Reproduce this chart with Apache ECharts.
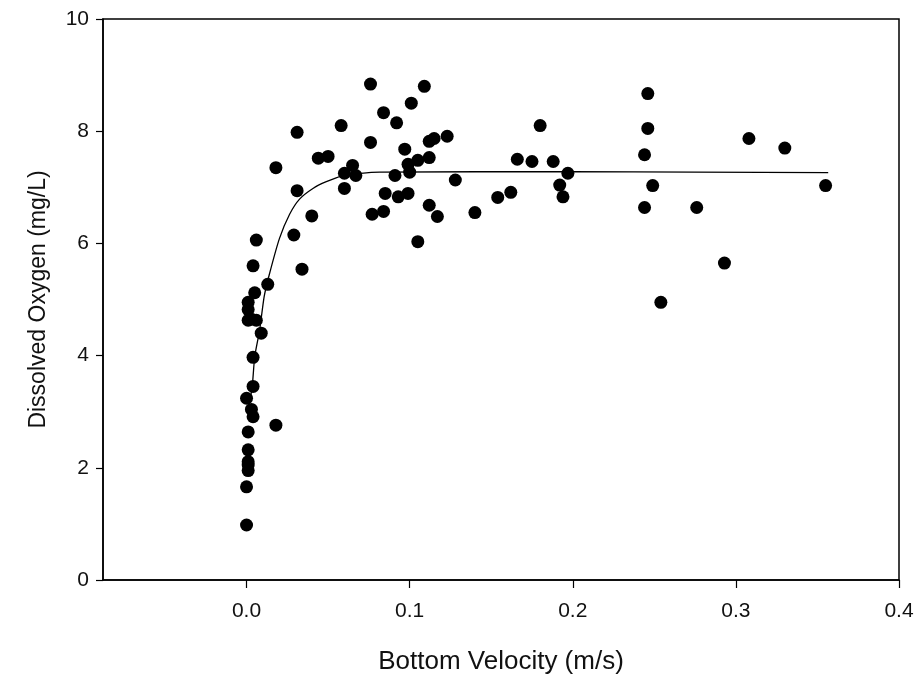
<!DOCTYPE html>
<html>
<head>
<meta charset="utf-8">
<script src="https://cdn.jsdelivr.net/npm/echarts@6/dist/echarts.min.js"></script>
<style>
  html, body { margin: 0; padding: 0; background: #fff; }
  #chart { width: 920px; height: 686px; }
</style>
</head>
<body>
<div id="chart"></div>
<script>
// observed points: [bottom velocity (m/s), dissolved oxygen (mg/L)]
var observed = [
  [0.000, 0.98], [0.000, 1.66], [0.001, 1.95], [0.001, 2.05], [0.001, 2.11],
  [0.001, 2.32], [0.001, 2.64], [0.000, 3.24], [0.003, 3.04], [0.004, 2.91],
  [0.018, 2.76], [0.004, 3.45], [0.004, 3.97], [0.009, 4.40], [0.001, 4.63],
  [0.003, 4.65], [0.006, 4.63], [0.001, 4.82], [0.001, 4.95], [0.005, 5.12],
  [0.013, 5.27], [0.004, 5.60], [0.006, 6.06], [0.034, 5.54], [0.029, 6.15],
  [0.040, 6.49], [0.018, 7.35], [0.031, 6.94], [0.031, 7.98], [0.044, 7.52],
  [0.050, 7.55], [0.058, 8.10], [0.060, 7.25], [0.060, 6.98], [0.065, 7.39],
  [0.067, 7.21], [0.076, 8.84], [0.076, 7.80], [0.077, 6.52], [0.084, 6.57],
  [0.084, 8.33], [0.085, 6.89], [0.091, 7.21], [0.092, 8.15], [0.093, 6.83],
  [0.097, 7.68], [0.099, 7.41], [0.099, 6.89], [0.100, 7.27], [0.101, 8.50],
  [0.105, 6.03], [0.105, 7.48], [0.109, 8.80], [0.112, 7.53], [0.112, 7.82],
  [0.112, 6.68], [0.115, 7.87], [0.117, 6.48], [0.123, 7.91], [0.128, 7.13],
  [0.140, 6.55], [0.154, 6.82], [0.162, 6.91], [0.166, 7.50], [0.175, 7.46],
  [0.180, 8.10], [0.188, 7.46], [0.192, 7.04], [0.194, 6.83], [0.197, 7.25],
  [0.244, 6.64], [0.244, 7.58], [0.246, 8.05], [0.246, 8.67], [0.249, 7.03],
  [0.254, 4.95], [0.276, 6.64], [0.293, 5.65], [0.308, 7.87], [0.330, 7.70],
  [0.355, 7.03]
];

// fitted curve
var fitCurve = [
  [0.0015, 3.10], [0.0035, 3.45], [0.005, 3.98], [0.008, 4.45], [0.0108, 5.05],
  [0.014, 5.45], [0.0202, 6.09], [0.0264, 6.52], [0.0325, 6.79], [0.0407, 6.98],
  [0.0489, 7.10], [0.0591, 7.21], [0.070, 7.25], [0.0816, 7.27], [0.200, 7.28],
  [0.3566, 7.26]
];

var xTicks = [0, 0.1, 0.2, 0.3, 0.4];
var yTicks = [0, 2, 4, 6, 8, 10];

var chart = echarts.init(document.getElementById('chart'));

var option = {
  animation: false,
  backgroundColor: '#fff',
  grid: {
    left: 103,
    right: 21,
    top: 19,
    bottom: 106,
    show: true,
    borderColor: '#000',
    borderWidth: 1.5
  },
  xAxis: {
    type: 'value',
    min: -0.088,
    max: 0.4,
    name: 'Bottom Velocity (m/s)',
    nameLocation: 'middle',
    nameGap: 69,
    nameTextStyle: { fontFamily: 'Liberation Sans', fontSize: 26, color: '#111' },
    axisLine: { onZero: false, lineStyle: { color: '#000', width: 1.5 } },
    axisTick: { show: true, inside: false, length: 8, customValues: xTicks, lineStyle: { color: '#000', width: 1.2 } },
    axisLabel: {
      customValues: xTicks,
      margin: 21,
      fontFamily: 'Liberation Sans',
      fontSize: 21,
      color: '#111',
      formatter: function (v) { return v.toFixed(1); }
    },
    splitLine: { show: false }
  },
  yAxis: {
    type: 'value',
    min: 0,
    max: 10,
    interval: 2,
    name: 'Dissolved Oxygen (mg/L)',
    nameLocation: 'middle',
    nameGap: 53,
    nameTextStyle: { fontFamily: 'Liberation Sans', fontSize: 23, color: '#111' },
    axisLine: { show: true, onZero: false, lineStyle: { color: '#000', width: 1.5 } },
    axisTick: { show: true, inside: false, length: 7, lineStyle: { color: '#000', width: 1.2 } },
    axisLabel: {
      customValues: yTicks,
      margin: 14,
      fontFamily: 'Liberation Sans',
      fontSize: 21,
      color: '#111'
    },
    splitLine: { show: false }
  },
  series: [
    {
      name: 'fit',
      type: 'line',
      data: fitCurve,
      smooth: 0.2,
      symbol: 'none',
      lineStyle: { color: '#000', width: 1.3 },
      z: 2
    },
    {
      name: 'observed',
      type: 'scatter',
      data: observed,
      symbol: 'circle',
      symbolSize: 13,
      itemStyle: { color: '#000', opacity: 1 },
      z: 3
    }
  ]
};

option && chart.setOption(option);
</script>
</body>
</html>
